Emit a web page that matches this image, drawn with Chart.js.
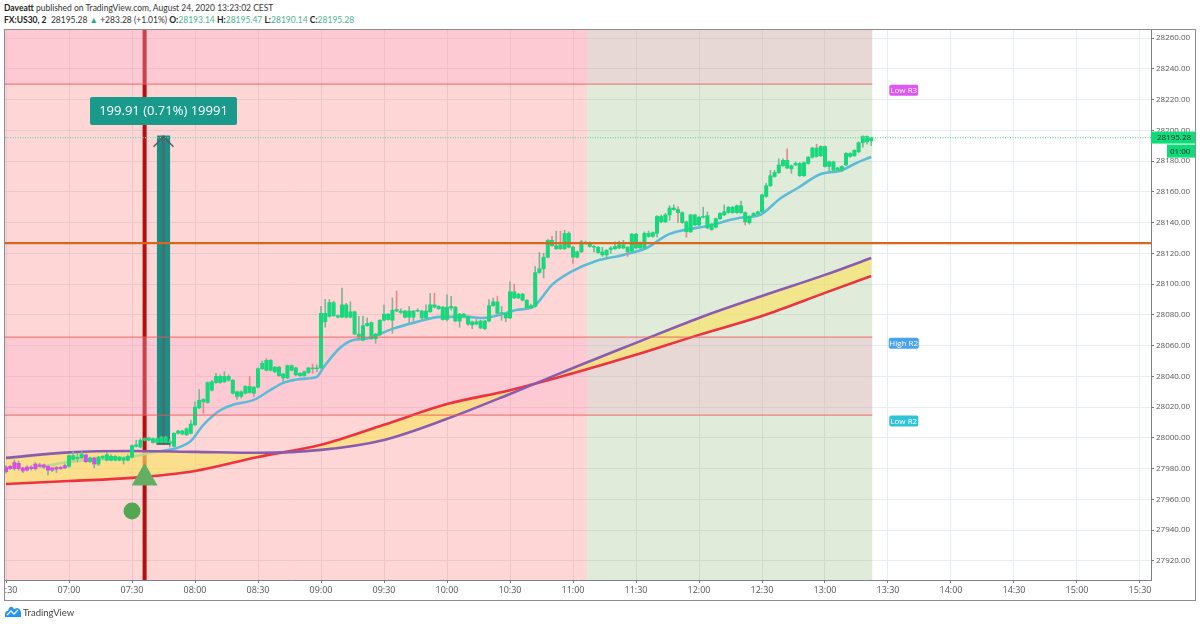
<!DOCTYPE html>
<html>
<head>
<meta charset="utf-8">
<script src="https://cdn.jsdelivr.net/npm/chart.js@4"></script>
<style>
  html, body { margin: 0; padding: 0; background: #fff; }
  body { width: 1200px; height: 625px; position: relative; overflow: hidden; font-family: Lato, sans-serif; color: #333; }
  canvas { position: absolute; left: 0; top: 0; }
  .head { position: absolute; left: 4px; font-size: 8.5px; white-space: nowrap; line-height: 12px; }
  .head b { font-weight: 700; color: #222; }
  .head i { font-style: normal; color: #4fb08f; }
  #frame { position: absolute; left: 4px; top: 29px; width: 1190px; height: 570px; border: 1px solid #8d8d8d; pointer-events: none; }
  #mask { position: absolute; left: 0; top: 582px; width: 4px; height: 17px; background: #fff; }
  #logo { position: absolute; left: 4px; top: 606px; }
  #brand { position: absolute; left: 23px; top: 606px; font-size: 9.5px; line-height: 14px; color: #444; }
</style>
</head>
<body>
<div class="head" style="top:2px"><b>Daveatt</b> published on TradingView.com, August 24, 2020 13:23:02 CEST</div>
<div class="head" style="top:14px"><b>FX:US30, 2</b> &nbsp;28195.28 <span style="color:#26a69a">▲</span> +283.28 (+1.01%) <b>O:</b><i>28193.14</i> <b>H:</b><i>28195.47</i> <b>L:</b><i>28190.14</i> <b>C:</b><i>28195.28</i></div>
<canvas id="chart" width="1200" height="625"></canvas>
<div id="mask"></div>
<div id="frame"></div>
<svg id="logo" width="18" height="12" viewBox="0 0 18 12"><path d="M1 11 L1 8 Q1 5 4 5 L5 2 Q8 -1 10 3 L13 2 Q17 3 17 7 L17 11 Z" fill="#2196f3"/><path d="M3 9 L7 5 L10 8 L14 4" fill="none" stroke="#fff" stroke-width="1.3"/></svg>
<div id="brand">TradingView</div>
<script>
// all times are minutes since midnight
const xMin = 389.52, xMax = 935.24;
const yMin = 27907.6, yMax = 28265.9;
const timeTicks = [390, 420, 450, 480, 510, 540, 570, 600, 630, 660, 690, 720, 750, 780, 810, 840, 870, 900, 930];
const priceTicks = [27920, 27940, 27960, 27980, 28000, 28020, 28040, 28060, 28080, 28100, 28120, 28140, 28160, 28180, 28200, 28220, 28240, 28260];

// 2 minute candles from 06:30
const firstCandle = 390, candleStep = 2;
const opens = [
27978,27980,27980,27980,27978.5,27979,27980,27980,27981.5,27981,27979,27979,27979.7,27980,27980.5,27981.5,27986,27986.5,27987,27984.5,
27984.5,27983,27983,27987,27985.5,27985.5,27985.5,27985.5,27985.5,27985.5,27987.5,27994.5,27994,27998.5,27998.5,27997,27997,27997,27997,27996.5,
27994.5,28003,28002.5,28002,28003,28008.5,28019.5,28025,28023,28031,28036,28036,28036.5,28037.5,28037.5,28027,28027,28029,28033.5,28033,
28033,28045,28044,28044,28043,28046,28039,28039,28044,28041,28040.5,28040.5,28042.5,28045.5,28045,28045.5,28075.5,28079,28079.5,28078.5,
28078.5,28078.5,28078.5,28082,28066,28063.5,28073,28075,28064.5,28067,28076.5,28077,28076.5,28083.5,28081.5,28078.5,28078.5,28078.5,28082.5,28078,
28078,28082,28086.5,28084,28077,28077,28084.5,28085,28076,28079,28079,28073.5,28074,28071.5,28071,28076,28086,28088.5,28081,28078,
28078,28095,28091,28089.5,28089.5,28084.5,28085.5,28107.5,28110,28117.5,28128.5,28123,28125.5,28123,28124,28124,28117.5,28121,28126.5,28124.5,
28124,28120.5,28119,28119,28122.5,28123,28123.5,28123.5,28124,28121.5,28123.5,28123.5,28123.5,28131,28131,28133,28140.5,28140.5,28145,28148.5,
28148.5,28146.5,28140.5,28134,28138.5,28138.5,28143.5,28136.5,28135.5,28137,28142.5,28145,28146.5,28146.5,28146.5,28146.5,28146.5,28140,28144.5,28145.5,
28147,28157,28164,28170,28172.5,28177,28180.5,28175,28177.5,28170.5,28170.5,28178.5,28182.5,28188.5,28183.5,28189.5,28176.5,28174,28174,28174,
28177.5,28183,28183.5,28186,28192,28192.5,28193.14];
const closes = [
27981,27981.5,27984,27983.5,27980.5,27981,27981,27983,27982.5,27982.5,27981.5,27980.5,27980.8,27980.8,27982,27988.5,27988.5,27987.5,27989.5,27989,
27987,27987,27987.5,27988,27989,27988,27988,27987.5,27987,27988,27995,27995.5,27998.5,27999.5,28000,27999.5,27999.5,28000.5,28000.5,27997.5,
28003,28004.5,28004.5,28006,28009,28020,28024.5,28023.5,28036,28036.5,28040,28040,28040,28040,28029,28030,28030,28033.5,28029.5,28029,
28045,28048.5,28050.5,28050.5,28046,28040.5,28041.5,28047,28047,28045.5,28042,28043,28045.5,28045,28045.5,28081,28081,28088,28088,28079.5,
28086.5,28086.5,28082,28067.5,28067.5,28073,28074.5,28064.5,28067.5,28076.5,28080.5,28080.5,28083,28082.5,28082.5,28082.5,28082.5,28082.5,28083,28082.5,
28082.5,28086.5,28085,28085.5,28085,28085,28085.5,28076,28080.5,28080.5,28074,28075.5,28075.5,28076,28076,28086,28088.5,28081,28081.5,28081,
28095,28091,28093.5,28093.5,28084.5,28086,28107.5,28110,28117.5,28128.5,28125,28125,28123,28133,28133,28117.5,28121,28127.5,28127,28126,
28124.5,28124,28121,28122,28123.5,28124.5,28125.5,28125.5,28121,28132.5,28132.5,28127,28133,28133,28133.5,28144,28144,28145,28149.5,28149.5,
28146.5,28140,28134,28145,28145,28143.5,28144,28144.5,28139,28142.5,28146,28147,28150,28150,28151,28151,28140.5,28144,28146,28147,
28158,28164,28170.5,28172.5,28177.5,28180.5,28175.5,28177,28178.5,28178.5,28179,28182.5,28188.5,28183,28189.5,28176.5,28179.5,28179.5,28175.5,28176.5,
28185,28185,28187,28192,28196,28196,28195.28];
const highs = [
27982,27982,27985.5,27985,27981,27982,27982,27984,27983.5,27983,27982,27981,27981.5,27981.5,27983,27989,27991,27990,27991,27989.5,
27987.5,27987.5,27988,27988.5,27990.5,27989,27988.5,27988,27987.5,27989,27995.5,27998.5,27999.5,28000,28000.5,28000,28000,28001,28001,27999,
28003.5,28005,28005,28006.5,28011.5,28023.5,28031.5,28025.5,28036.5,28037.5,28042,28041,28043,28041,28038,28030.5,28030.5,28034,28040,28033.5,
28045.5,28050,28051.5,28051,28046.5,28046.5,28042,28047.5,28047.5,28046,28042.5,28043.5,28046,28048,28047.5,28085.5,28090,28090,28089,28080,
28097.5,28087.5,28088.5,28082.5,28079,28079,28078,28075.5,28068,28077,28086.5,28081,28091,28095.5,28084,28083,28085.5,28083,28084,28083,
28086.5,28094,28094,28086,28085.5,28093,28092,28085.5,28081,28081,28079.5,28076,28077,28076.5,28076.5,28090,28091,28092,28085.5,28081.5,
28101.5,28100,28094,28094,28090,28087,28111.5,28120.5,28120,28129,28131,28134.5,28134.5,28135,28134,28124.5,28121.5,28128.5,28128,28127.5,
28125,28124.5,28124,28122.5,28124.5,28127.5,28128,28128.5,28124.5,28133,28133,28127.5,28134,28134.5,28134,28144.5,28145,28146,28151,28151.5,
28150.5,28147,28141,28145.5,28145.5,28144,28150,28147,28139.5,28143,28146.5,28151.5,28150.5,28150.5,28151.5,28154,28147,28144.5,28146.5,28147.5,
28158.5,28165.5,28174,28174,28181.5,28181.5,28188,28177.5,28179.5,28179,28179.5,28183,28189,28191,28190,28190,28180,28180,28176,28177,
28185.5,28185.5,28187.5,28192.5,28196.5,28196.5,28195.47];
const lows = [
27977,27979.5,27979,27979,27977.5,27978.5,27979,27979,27981,27980,27976,27978,27977.5,27979.5,27980,27981,27985.5,27984.5,27986.5,27984,
27984,27980.5,27982,27986,27985,27985,27985,27985,27983,27985,27987,27994,27993.5,27998,27998,27996.5,27996,27996.5,27996.5,27994,
27994,28002.5,28002,28001.5,28002.5,28008,28019,28016,28022.5,28030.5,28035.5,28035.5,28036,28037,28028.5,28025,28026,28028.5,28029,28027,
28032.5,28044.5,28043.5,28043.5,28042.5,28040,28036.5,28038.5,28043.5,28040.5,28040,28040,28042,28042,28043,28045,28072,28078.5,28079,28078,
28078,28078,28078,28067,28063.5,28063,28072.5,28064,28061.5,28066.5,28076,28076.5,28068,28082,28081,28078,28075,28076,28082,28077.5,
28077.5,28081.5,28084.5,28083.5,28076.5,28076,28083,28075.5,28072,28078.5,28073,28071,28073.5,28071,28070.5,28075.5,28085.5,28080.5,28076.5,28075.5,
28077.5,28090.5,28090.5,28089,28084,28084,28085,28107,28104,28117,28124.5,28122.5,28122.5,28122.5,28123.5,28113.5,28117,28120.5,28126,28124,
28121,28120,28118,28117,28120,28122.5,28123,28123,28118,28121,28123,28123,28123,28130.5,28130.5,28130.5,28140,28140,28141.5,28148,
28140,28139.5,28130.5,28133.5,28138,28138,28143,28136,28135,28136.5,28142,28144.5,28146,28146,28146,28146,28138.5,28139,28144,28145,
28146.5,28156.5,28163.5,28169.5,28172,28176.5,28175,28172,28177,28170,28170,28178,28182,28182.5,28183,28176,28173,28173.5,28173.5,28173,
28177,28182.5,28183,28185.5,28189,28191,28190.14];

// moving averages, read at 30 minute knots
const maTimes = [390, 420, 450, 480, 510, 540, 570, 600, 630, 660, 690, 720, 750, 780, 802];
const slowPurple = [27987, 27990.6, 27991.5, 27990.9, 27990.3, 27992.2, 27998.7, 28012.4, 28028.6, 28045.5, 28061.8, 28078, 28092.3, 28106, 28117];
const slowRed = [27970, 27972, 27974, 27978.5, 27987.6, 27995.5, 28008.5, 28022, 28031, 28042, 28054, 28067, 28079.3, 28094.3, 28105.3];

const fastTimes = [406, 420, 450, 461, 470, 478, 484, 492, 498, 508, 516, 522, 531, 538, 541, 548, 554, 563, 574, 584, 597, 610, 617, 625, 633, 641, 650, 659, 671, 684, 695, 705, 711, 724, 739, 749, 759, 767, 778, 787, 795, 802];
const fastBlue = [27981, 27984.4, 27987.7, 27990.9, 27992.9, 27998, 28008.5, 28018, 28021.5, 28024.7, 28031.2, 28035.8, 28038.4, 28039.7, 28045.5, 28057.2, 28063, 28065, 28070.9, 28074.8, 28078.7, 28078.7, 28078, 28080, 28083.2, 28085.2, 28099.5, 28107.9, 28115, 28119, 28123.5, 28132, 28134.6, 28137.8, 28143, 28145, 28156, 28162.5, 28171.6, 28173.6, 28178.8, 28182.7];

// levels and zones
const sessionEnd = 802.5, sessionSplit = 666.7;
const lowR3 = 28230, highR2 = 28065.5, lowR2 = 28014.8, orangeLevel = 28126.7, lastPrice = 28195.28;
const signalTime = 456;
const arrowTime = 465, arrowFrom = 27996, arrowTo = 28196.5;
const triangleAt = [456, 27974], circleAt = [450, 27952.5];

function pad2(n) { return String(n).padStart(2, "0"); }
function timeLabel(t) { return pad2(Math.floor(t / 60)) + ":" + pad2(t % 60); }
function hline(value, from, to, color, width, order, dash) {
  return {
    type: "line", order: order, borderColor: color, borderWidth: width, borderDash: dash || [],
    pointRadius: 0, data: [{ x: from, y: value }, { x: to, y: value }]
  };
}

const candleTimes = opens.map((_, i) => firstCandle + i * candleStep);
const isPurple = i => i < 15 || i === 19 || i === 21;

const zones = {
  id: "zones",
  beforeDatasetsDraw(chart) {
    const { ctx, scales: { x, y }, chartArea: a } = chart;
    const left = a.left, split = x.getPixelForValue(sessionSplit), end = x.getPixelForValue(sessionEnd);
    ctx.save();
    ctx.fillStyle = "rgba(255,0,0,0.16)";
    ctx.fillRect(left, a.top, split - left, a.height);
    ctx.fillStyle = "rgba(83,150,44,0.18)";
    ctx.fillRect(split, a.top, end - split, a.height);
    // signal line sits under the pink bands, that is why it looks lighter there
    ctx.fillStyle = "#b20f0f";
    ctx.fillRect(x.getPixelForValue(signalTime) - 2, a.top, 4, a.height);
    ctx.fillStyle = "rgba(249,173,205,0.32)";
    ctx.fillRect(left, a.top, end - left, y.getPixelForValue(lowR3) - a.top);
    const t = y.getPixelForValue(highR2), b = y.getPixelForValue(lowR2);
    ctx.fillRect(left, t, end - left, b - t);
    ctx.restore();
  }
};

function tag(ctx, text, cx, cy, w, h, bg, color, font) {
  ctx.fillStyle = bg;
  ctx.beginPath();
  ctx.roundRect(cx - w / 2, cy - h / 2, w, h, 2);
  ctx.fill();
  ctx.fillStyle = color;
  ctx.font = font;
  ctx.textAlign = "center";
  ctx.textBaseline = "middle";
  ctx.fillText(text, cx, cy + 0.5);
}

const overlays = {
  id: "overlays",
  afterDraw(chart) {
    const { ctx, scales: { x, y }, chartArea: a } = chart;
    ctx.save();
    // arrow head and foot
    const ax = x.getPixelForValue(arrowTime), top = y.getPixelForValue(arrowTo), foot = y.getPixelForValue(arrowFrom);
    ctx.strokeStyle = "#4d5f66";
    ctx.lineWidth = 1.5;
    ctx.beginPath();
    ctx.moveTo(ax - 10, top + 11);
    ctx.lineTo(ax, top + 1);
    ctx.lineTo(ax + 10, top + 11);
    ctx.moveTo(ax - 7, foot);
    ctx.lineTo(ax + 7, foot);
    ctx.stroke();
    tag(ctx, "199.91 (0.71%) 19991", 163.5, y.getPixelForValue(28212.5), 147, 28, "#1a9a8b", "#fff", "13px 'Open Sans'");
    // indicator labels
    const lx = x.getPixelForValue(817.5);
    tag(ctx, "Low R3", lx, y.getPixelForValue(28226), 29, 11, "#e056f5", "#fff", "8px 'Open Sans'");
    tag(ctx, "High R2", lx, y.getPixelForValue(28061.5), 30, 11, "#4aa3ee", "#fff", "8px 'Open Sans'");
    tag(ctx, "Low R2", lx, y.getPixelForValue(28011), 29, 11, "#2fc3d8", "#fff", "8px 'Open Sans'");
    // last price tags on the axis
    const py = y.getPixelForValue(lastPrice);
    ctx.fillStyle = "#0fdc78";
    ctx.fillRect(a.right, py - 6, 44, 12);
    ctx.fillRect(a.right + 16, py + 7, 28, 13);
    ctx.fillStyle = "#123";
    ctx.font = "8px 'Open Sans'";
    ctx.textAlign = "left";
    ctx.textBaseline = "middle";
    ctx.fillText(lastPrice.toFixed(2), a.right + 6, py + 0.5);
    ctx.fillText("01:00", a.right + 19, py + 14);
    ctx.restore();
  }
};

new Chart(document.getElementById("chart"), {
  type: "bar",
  data: {
    datasets: [
      hline(lastPrice, xMin, xMax, "#6fdc9e", 1.3, 1, [1, 1.5]),
      hline(lowR3, xMin, sessionEnd, "rgba(235,90,90,0.7)", 1.3, 3),
      hline(highR2, xMin, sessionEnd, "rgba(235,90,90,0.7)", 1.3, 3),
      hline(lowR2, xMin, sessionEnd, "rgba(235,90,90,0.7)", 1.3, 3),
      hline(orangeLevel, xMin, xMax, "#d9661f", 2.2, 0),
      {
        type: "bar", order: 9, grouped: false, barThickness: 12.5, backgroundColor: "#1b8f84",
        data: [{ x: arrowTime, y: [arrowFrom, arrowTo] }]
      },
      {
        type: "bar", order: 8.5, grouped: false, barThickness: 2, backgroundColor: "#4d6b70",
        data: [{ x: arrowTime, y: [arrowFrom, arrowTo] }]
      },
      {
        type: "line", order: 8, borderColor: "#5cbcd8", borderWidth: 2.6, pointRadius: 0,
        cubicInterpolationMode: "monotone",
        data: fastTimes.map((t, i) => ({ x: t, y: fastBlue[i] }))
      },
      {
        type: "line", order: 6, borderColor: "#8a5cb0", borderWidth: 2.6, pointRadius: 0,
        cubicInterpolationMode: "monotone",
        data: maTimes.map((t, i) => ({ x: t, y: slowPurple[i] }))
      },
      {
        type: "line", order: 6.5, borderColor: "#ee3340", borderWidth: 2.6, pointRadius: 0,
        cubicInterpolationMode: "monotone",
        data: maTimes.map((t, i) => ({ x: t, y: slowRed[i] }))
      },
      // yellow fill on its own so both lines stay on top of it
      {
        type: "line", order: 7, borderWidth: 0, borderColor: "transparent", pointRadius: 0,
        cubicInterpolationMode: "monotone",
        fill: { target: 8, above: "rgba(250,228,100,0.65)", below: "rgba(250,228,100,0.65)" },
        data: maTimes.map((t, i) => ({ x: t, y: slowRed[i] }))
      },
      {
        type: "bar", order: 5, grouped: false, barThickness: 1,
        backgroundColor: candleTimes.map((_, i) => closes[i] < opens[i] ? "#e58a8a" : "#7fb59a"),
        data: candleTimes.map((t, i) => ({ x: t, y: [lows[i], highs[i]] }))
      },
      {
        type: "bar", order: 4, grouped: false, barThickness: 3.4,
        backgroundColor: candleTimes.map((_, i) => isPurple(i) ? "#d54fe6" : "#17d97c"),
        data: candleTimes.map((t, i) => ({ x: t, y: [opens[i], closes[i]] }))
      },
      {
        type: "line", order: -1, showLine: false, pointStyle: "triangle", pointRadius: 15,
        pointBackgroundColor: "#63ae63", pointBorderWidth: 0,
        data: [{ x: triangleAt[0], y: triangleAt[1] }]
      },
      {
        type: "line", order: -1, showLine: false, pointStyle: "circle", pointRadius: 8.5,
        pointBackgroundColor: "#52a852", pointBorderWidth: 0,
        data: [{ x: circleAt[0], y: circleAt[1] }]
      }
    ]
  },
  options: {
    responsive: false,
    animation: false,
    layout: { autoPadding: false, padding: { left: 5, top: 29, right: 5, bottom: 25 } },
    plugins: { legend: { display: false }, tooltip: { enabled: false } },
    scales: {
      x: {
        type: "linear", min: xMin, max: xMax, offset: false,
        grid: { color: "#e6edf3", offset: false, tickLength: 3, tickColor: "#777" },
        border: { color: "#7b7f88", width: 1 },
        ticks: {
          autoSkip: false, maxRotation: 0, padding: 2, color: "#555",
          font: { family: "Open Sans", size: 9 },
          callback: v => timeLabel(v)
        },
        afterBuildTicks: s => { s.ticks = timeTicks.map(v => ({ value: v })); },
        afterFit: s => { s.height = 20; s.paddingLeft = 0; s.paddingRight = 0; }
      },
      y: {
        type: "linear", position: "right", min: yMin, max: yMax,
        grid: { color: "#e6edf3", tickLength: 3, tickColor: "#777" },
        border: { color: "#7b7f88", width: 1 },
        ticks: {
          padding: 2, color: "#555",
          font: { family: "Open Sans", size: 8 },
          callback: v => v.toFixed(2)
        },
        afterBuildTicks: s => { s.ticks = priceTicks.map(v => ({ value: v })); },
        afterFit: s => { s.width = 44; s.paddingTop = 0; s.paddingBottom = 0; }
      }
    }
  },
  plugins: [zones, overlays]
});
</script>
</body>
</html>
